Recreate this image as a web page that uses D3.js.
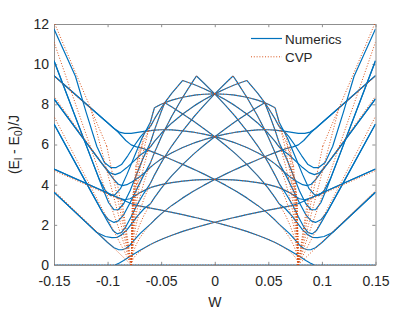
<!DOCTYPE html>
<html><head><meta charset="utf-8">
<script src="https://cdn.jsdelivr.net/npm/d3@7"></script>
<style>html,body{margin:0;padding:0;background:#fff}svg{display:block}</style>
</head><body>
<svg id="chart" width="415" height="312"></svg>
<script>
// ---------- axis / legend data ----------
const xTicks = [-0.15, -0.1, -0.05, 0, 0.05, 0.1, 0.15];
const xTickLabels = ["-0.15", "-0.1", "-0.05", "0", "0.05", "0.1", "0.15"];
const yTicks = [0, 2, 4, 6, 8, 10, 12];
const yTickLabels = ["0", "2", "4", "6", "8", "10", "12"];
const legendLabels = ["Numerics", "CVP"];

// The figure is mirror-symmetric about W = 0: every curve below is read for W <= 0
// and drawn a second time reflected onto W >= 0.

// W positions (W <= 0) where the inner curves were read
const wInner = [-0.0777, -0.0775, -0.07691, -0.07663, -0.07616, -0.07531, -0.0735, -0.07039,
  -0.06597, -0.06, -0.05626, -0.05, -0.04662, -0.04, -0.02988, -0.02, -0.01706, -0.01, 0];

// CVP, inner region: [first index in wInner, energies]
const cvpInner = [
  [0, [0, 0.108, 0.215, 0.250, 0.300, 0.374, 0.495, 0.653, 0.827, 1.017, 1.119, 1.272, 1.347, 1.484, 1.671, 1.836, 1.882, 1.988, 2.13]],
  [0, [0, 0.216, 0.430, 0.500, 0.599, 0.748, 0.991, 1.307, 1.655, 2.034, 2.238, 2.544, 2.694, 2.968, 3.342, 3.672, 3.764, 3.976, 4.26]],
  [0, [0, 0.324, 0.645, 0.751, 0.899, 1.121, 1.486, 1.960, 2.482, 3.051, 3.357, 3.816, 4.041, 4.452, 5.013, 5.508, 5.646, 5.964, 6.39]],
  [0, [0, 0.432, 0.860, 1.001, 1.199, 1.495, 1.982, 2.614, 3.310, 4.068, 4.476, 5.088, 5.388, 5.936, 6.684, 7.344, 7.528, 7.952, 8.52]],
  [0, [0, 0.54, 1.076, 1.251, 1.499, 1.869, 2.477, 3.267, 4.137, 5.085, 5.595, 6.36, 6.735, 7.42, 8.355, 9.18, 9.41]],
  [0, [0, 0.648, 1.291, 1.501, 1.798, 2.243, 2.972, 3.920, 4.964, 6.102, 6.714, 7.632, 8.082]],
  [0, [0, 0.756, 1.506, 1.751, 2.098, 2.617, 3.468, 4.574, 5.792, 7.119, 7.833]],
  [0, [0, 0.864, 1.721, 2.002, 2.398, 2.990, 3.963, 5.227, 6.619]],
  [0, [0, 0.972, 1.936, 2.252, 2.697, 3.364, 4.459, 5.881]],
  [0, [0, 1.08, 2.151, 2.502, 2.997, 3.738, 4.954]],
  [0, [0, 1.188, 2.366, 2.752, 3.297, 4.112]],
  [0, [0, 1.296, 2.581, 3.002, 3.596]],
  [0, [0, 1.404, 2.796, 3.253]],
  [0, [0, 1.512, 3.011]],
  [2, [3.005, 3.002, 2.997, 2.989, 2.971, 2.940, 2.896, 2.835, 2.797, 2.731, 2.694, 2.622, 2.506, 2.388, 2.352, 2.263, 2.13]],
  [3, [3.252, 3.297, 3.363, 3.466, 3.593, 3.723, 3.852, 3.916, 4.003, 4.041, 4.106, 4.177, 4.224, 4.234, 4.251, 4.26]],
  [4, [3.596, 3.737, 3.962, 4.247, 4.551, 4.869, 5.035, 5.275, 5.388, 5.590, 5.848, 6.06, 6.116, 6.239, 6.39]],
  [5, [4.110, 4.457, 4.900, 5.378, 5.886, 6.154, 6.547, 6.735, 7.074, 7.519, 7.896, 7.998, 8.227, 8.52]],
  [6, [4.953, 5.554, 6.206, 6.903, 7.273, 7.819, 8.082, 8.558, 9.19]],
  [7, [5.880, 5.792, 5.670, 5.594, 5.462, 5.388, 5.244, 5.012, 4.776, 4.704, 4.526, 4.26]],
  [8, [6.619, 6.687, 6.713, 6.734, 6.735, 6.728, 6.683, 6.612, 6.586, 6.514, 6.39]],
  [10, [7.832, 8.006, 8.082, 8.212, 8.354, 8.448, 8.468, 8.502, 8.52]],
  [12, [8.082, 7.866, 7.518, 7.164, 7.056, 6.789, 6.39]],
  [14, [9.189, 9.0, 8.938, 8.777, 8.52]],
  [16, [9.408, 9.052, 8.52]]
];

// CVP, outer region (straight dotted lines): [W, E] end points
const cvpOuter = [
  [[-0.15, 0], [0, 0]],
  [[-0.0777, 0], [-0.15, 3.70]],
  [[-0.0777, 0], [-0.15, 7.40]],
  [[-0.0777, 0], [-0.15, 11.10]],
  [[-0.0777, 0], [-0.1158, 7.80]],
  [[-0.0777, 0], [-0.1008, 5.92]],
  [[-0.0777, 0], [-0.0906, 3.975]],
  [[-0.0777, 0], [-0.08669, 3.22]],
  [[-0.08669, 3.22], [-0.15, 4.70]],
  [[-0.0906, 3.975], [-0.15, 8.40]],
  [[-0.1008, 5.92], [-0.15, 12.1]],
  [[-0.1158, 7.80], [-0.15, 9.40]]
];

// Numerics, inner region (W >= -0.06): [first index in wInner, energies]
const numInner = [
  [9, [1.017, 1.119, 1.272, 1.347, 1.484, 1.671, 1.836, 1.882, 1.988, 2.13]],
  [9, [2.034, 2.238, 2.544, 2.694, 2.968, 3.342, 3.672, 3.764, 3.976, 4.26]],
  [9, [3.051, 3.357, 3.816, 4.041, 4.452, 5.013, 5.508, 5.646, 5.964, 6.39]],
  [9, [4.068, 4.476, 5.088, 5.388, 5.936, 6.684, 7.344, 7.528, 7.952, 8.52]],
  [9, [5.085, 5.595, 6.36, 6.735, 7.42, 8.355, 9.18, 9.41]],
  [9, [6.102, 6.714, 7.632, 8.082]],
  [9, [7.119, 7.833]],
  [9, [2.835, 2.797, 2.731, 2.694, 2.622, 2.506, 2.388, 2.352, 2.263, 2.13]],
  [9, [3.852, 3.916, 4.003, 4.041, 4.106, 4.177, 4.224, 4.234, 4.251, 4.26]],
  [9, [4.869, 5.035, 5.275, 5.388, 5.590, 5.848, 6.06, 6.116, 6.239, 6.39]],
  [9, [5.886, 6.154, 6.547, 6.735, 7.074, 7.519, 7.896, 7.998, 8.227, 8.52]],
  [9, [6.903, 7.273, 7.819, 8.082, 8.558, 9.19]],
  [9, [5.670, 5.594, 5.462, 5.388, 5.244, 5.012, 4.776, 4.704, 4.526, 4.26]],
  [9, [6.687, 6.713, 6.734, 6.735, 6.728, 6.683, 6.612, 6.586, 6.514, 6.39]],
  [10, [7.832, 8.006, 8.082, 8.212, 8.354, 8.448, 8.468, 8.502, 8.52]],
  [12, [8.082, 7.866, 7.518, 7.164, 7.056, 6.789, 6.39]],
  [14, [9.189, 9.0, 8.938, 8.777, 8.52]],
  [16, [9.408, 9.052, 8.52]]
];

// Numerics, outer region and transition (W <= -0.06): [W, E]
const numOuter = [
  [[-0.15, 0], [0, 0]],
  [[-0.093, 0], [-0.089, 0.1], [-0.085, 0.22], [-0.08, 0.4], [-0.075, 0.56], [-0.07, 0.72], [-0.065, 0.87], [-0.06, 1.017]],
  [[-0.15, 3.62], [-0.12, 2.12], [-0.1, 1.12], [-0.094, 0.86], [-0.09, 0.77], [-0.0865, 0.76], [-0.083, 0.82], [-0.079, 1.0], [-0.075, 1.25], [-0.07, 1.55], [-0.065, 1.8], [-0.06, 2.034]],
  [[-0.15, 3.62], [-0.11, 1.62], [-0.102, 1.42], [-0.096, 1.36], [-0.091, 1.38], [-0.087, 1.5], [-0.082, 1.75], [-0.077, 2.1], [-0.072, 2.45], [-0.066, 2.8], [-0.06, 3.051]],
  [[-0.15, 4.78], [-0.0777, 3.05], [-0.07039, 2.94], [-0.06, 2.835]],
  [[-0.15, 4.78], [-0.09, 3.35], [-0.084, 3.25], [-0.079, 3.3], [-0.075, 3.42], [-0.07, 3.6], [-0.065, 3.73], [-0.06, 3.852]],
  [[-0.15, 7.02], [-0.12, 4.1], [-0.1, 2.17], [-0.095, 1.72], [-0.091, 1.55], [-0.087, 1.62], [-0.083, 1.9], [-0.078, 2.4], [-0.073, 2.95], [-0.067, 3.5], [-0.06, 4.068]],
  [[-0.15, 7.02], [-0.12, 4.1], [-0.105, 2.65], [-0.099, 2.25], [-0.094, 2.12], [-0.09, 2.2], [-0.085, 2.5], [-0.079, 3.1], [-0.073, 3.75], [-0.067, 4.4], [-0.06, 5.085]],
  [[-0.15, 10.17], [-0.12, 5.97], [-0.105, 3.87], [-0.099, 3.1], [-0.094, 2.75], [-0.09, 2.75], [-0.085, 3.05], [-0.079, 3.7], [-0.073, 4.5], [-0.067, 5.3], [-0.06, 6.102]],
  [[-0.15, 10.17], [-0.12, 5.97], [-0.108, 4.3], [-0.102, 3.7], [-0.097, 3.45], [-0.093, 3.5], [-0.088, 3.8], [-0.082, 4.5], [-0.075, 5.4], [-0.068, 6.3], [-0.06, 7.119]],
  [[-0.15, 8.27], [-0.12, 6.11], [-0.1, 4.67], [-0.094, 4.25], [-0.09, 4.02], [-0.086, 3.95], [-0.082, 4.0], [-0.077, 4.15], [-0.07, 4.4], [-0.065, 4.62], [-0.06, 4.869]],
  [[-0.15, 8.27], [-0.12, 6.11], [-0.105, 5.03], [-0.098, 4.6], [-0.093, 4.5], [-0.088, 4.6], [-0.082, 4.85], [-0.076, 5.15], [-0.07, 5.45], [-0.065, 5.65], [-0.06, 5.886]],
  [[-0.15, 9.43], [-0.12, 8.02], [-0.1, 7.08], [-0.09, 6.61], [-0.083, 6.2], [-0.078, 5.98], [-0.073, 5.88], [-0.067, 5.8], [-0.06, 5.67]],
  [[-0.15, 9.43], [-0.12, 8.02], [-0.1, 7.08], [-0.094, 6.8], [-0.089, 6.62], [-0.084, 6.55], [-0.078, 6.55], [-0.072, 6.6], [-0.066, 6.65], [-0.06, 6.687]],
  [[-0.15, 11.75], [-0.13, 9.4], [-0.12, 7.6], [-0.11, 5.9], [-0.103, 5.1], [-0.097, 4.85], [-0.092, 4.85], [-0.087, 5.0], [-0.081, 5.45], [-0.075, 5.95], [-0.069, 6.4], [-0.064, 6.7], [-0.06, 6.903]]
];

// ---------- drawing ----------
const svg = d3.select("#chart");
const x = d3.scaleLinear().domain([-0.15, 0.15]).range([54, 375.5]);
const y = d3.scaleLinear().domain([0, 12]).range([265, 24]);
const blue = "#0072BD", orange = "#D95319", axisGray = "#8f8f8f", textCol = "#262626";
const font = "'Liberation Sans', Arial, Helvetica, sans-serif";

svg.append("defs").append("clipPath").attr("id", "plotClip")
  .append("rect").attr("x", x(-0.15)).attr("y", y(12))
  .attr("width", x(0.15) - x(-0.15)).attr("height", y(0) - y(12));

function styleAxis(g) {
  g.select(".domain").attr("stroke", axisGray).attr("stroke-width", 1);
  g.selectAll(".tick line").attr("stroke", axisGray).attr("stroke-width", 1);
  g.selectAll(".tick text").attr("fill", textCol).attr("font-family", font).attr("font-size", 14);
}
const gx = svg.append("g").attr("transform", `translate(0,${y(0)})`)
  .call(d3.axisBottom(x).tickValues(xTicks).tickFormat((d, i) => xTickLabels[i]).tickSizeInner(-3.2).tickSizeOuter(0).tickPadding(11.5));
styleAxis(gx);
const gxt = svg.append("g").attr("transform", `translate(0,${y(12)})`)
  .call(d3.axisTop(x).tickValues(xTicks).tickFormat("").tickSizeInner(-3.2).tickSizeOuter(0));
styleAxis(gxt);
const gy = svg.append("g").attr("transform", `translate(${x(-0.15)},0)`)
  .call(d3.axisLeft(y).tickValues(yTicks).tickFormat((d, i) => yTickLabels[i]).tickSizeInner(-3.2).tickSizeOuter(0).tickPadding(5));
styleAxis(gy);
const gyr = svg.append("g").attr("transform", `translate(${x(0.15)},0)`)
  .call(d3.axisRight(y).tickValues(yTicks).tickFormat("").tickSizeInner(-3.2).tickSizeOuter(0));
styleAxis(gyr);

const plot = svg.append("g").attr("clip-path", "url(#plotClip)");
const lineL = d3.line().x(d => x(d[0])).y(d => y(d[1]));
const lineR = d3.line().x(d => x(-d[0])).y(d => y(d[1]));
const fromGrid = ([start, vals]) => vals.map((e, i) => [wInner[start + i], e]);

function drawLines(lines, stroke, width, dash) {
  for (const pts of lines) {
    for (const gen of [lineL, lineR]) {
      plot.append("path").attr("d", gen(pts)).attr("fill", "none")
        .attr("stroke", stroke).attr("stroke-width", width)
        .attr("stroke-dasharray", dash).attr("stroke-linejoin", "round");
    }
  }
}
drawLines(numOuter, blue, 1.2, null);
drawLines(numInner.map(fromGrid), blue, 1.2, null);
drawLines(cvpOuter, orange, 1, "1 1.8");
drawLines(cvpInner.map(fromGrid), orange, 1, "1 1.8");

// axis titles
svg.append("text").attr("x", x(0)).attr("y", 306.5).attr("text-anchor", "middle")
  .attr("fill", textCol).attr("font-family", font).attr("font-size", 14).text("W");
const yl = svg.append("text").attr("transform", `translate(19,${(y(0) + y(12)) / 2}) rotate(-90)`)
  .attr("text-anchor", "middle").attr("fill", textCol).attr("font-family", font).attr("font-size", 14);
yl.append("tspan").text("(E");
yl.append("tspan").attr("font-size", 10).attr("dy", 3).text("l");
yl.append("tspan").attr("dy", -3).text(" - E");
yl.append("tspan").attr("font-size", 10).attr("dy", 3).text("0");
yl.append("tspan").attr("dy", -3).text(")/J");

// legend
const leg = svg.append("g");
[[blue, null], [orange, "1 1.8"]].forEach(([c, dash], i) => {
  const ly = 38.5 + i * 18.3;
  leg.append("line").attr("x1", 251).attr("x2", 282).attr("y1", ly).attr("y2", ly)
    .attr("stroke", c).attr("stroke-width", i ? 1 : 1.2).attr("stroke-dasharray", dash);
  leg.append("text").attr("x", 285).attr("y", ly + 5.5).attr("fill", textCol)
    .attr("font-family", font).attr("font-size", 13.4).text(legendLabels[i]);
});
</script>
</body></html>
